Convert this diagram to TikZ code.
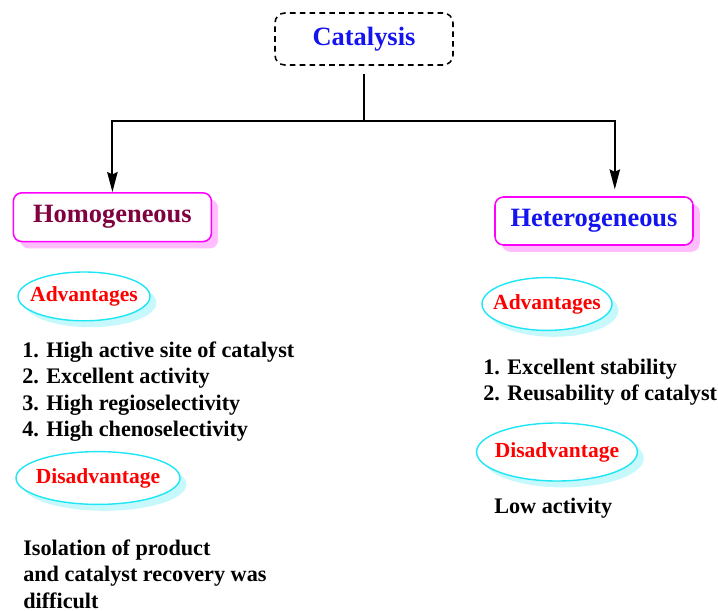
\documentclass[tikz,border=0pt]{standalone}
\usepackage{fontspec}
\setmainfont{Liberation Serif}
\usetikzlibrary{arrows.meta,shapes.geometric,shadows}
\definecolor{catblue}{HTML}{1414F0}
\definecolor{homomaroon}{HTML}{800040}
\definecolor{boxmagenta}{HTML}{FF00FF}
\definecolor{ovalcyan}{HTML}{1EE6F5}

\begin{document}
\begin{tikzpicture}[
  >={Stealth[length=5mm,width=2.6mm,inset=0.6mm]},
  font=\bfseries,
  rootbox/.style={draw=black, dash pattern=on 4pt off 3pt, line width=1.1pt, rounded corners=7pt, minimum width=4.45cm, minimum height=1.3cm, font=\fontsize{18.8}{22}\selectfont\bfseries, text=catblue},
  typebox/.style={draw=boxmagenta, fill=white, line width=1.1pt, rounded corners=6pt, minimum width=4.95cm, minimum height=1.22cm, font=\fontsize{18.8}{22}\selectfont\bfseries, general shadow={fill=boxmagenta!25, shadow xshift=0.17cm, shadow yshift=-0.17cm}},
  oval/.style={ellipse, draw=ovalcyan, fill=white, line width=1pt, inner xsep=-0.4cm, inner ysep=-0.2cm, font=\fontsize{15.3}{18}\selectfont\bfseries, text=red, general shadow={fill=ovalcyan!25, shadow xshift=0.16cm, shadow yshift=-0.16cm}},
  item/.style={anchor=west, align=left, inner sep=0pt, font=\fontsize{15.8}{18.85}\selectfont\bfseries},
  link/.style={line width=1.4pt}
]
\useasboundingbox (0,0) rectangle (17.95,-15.275);

\node[rootbox] (catalysis) at (9.1,-0.975) {Catalysis};
\node[typebox, text=homomaroon] (homogeneous) at (2.81,-5.43) {Homogeneous};
\node[typebox, text=catblue, minimum height=1.2cm] (heterogeneous) at (14.85,-5.525) {Heterogeneous};

\coordinate (fork) at (9.1,-3.03);
\draw[link, shorten <=0.2cm] (catalysis.south) -- (fork);
\draw[link, ->] (fork) -| (homogeneous.north);
\draw[link, ->, shorten >=0.17cm] (fork) -| ([xshift=0.52cm]heterogeneous.north);

% homogeneous side
\node[oval, minimum width=3.3cm, minimum height=1.22cm] (advhomo) at (2.1,-7.41) {Advantages};
\node[item] (prohomo) at (0.55,-9.79) {1. High active site of catalyst\\2. Excellent activity\\3. High regioselectivity\\4. High chenoselectivity};
\node[oval, minimum width=4.1cm, minimum height=1.32cm] (dishomo) at (2.45,-11.95) {Disadvantage};
\node[item] (conhomo) at (0.575,-14.35) {Isolation of product\\and catalyst recovery was\\difficult};

% heterogeneous side
\node[oval, minimum width=3.25cm, minimum height=1.32cm] (advhetero) at (13.675,-7.6) {Advantages};
\node[item] (prohetero) at (12.075,-9.55) {1. Excellent stability\\2. Reusability of catalyst};
\node[oval, minimum width=4.02cm, minimum height=1.45cm] (dishetero) at (13.925,-11.3) {Disadvantage};
\node[item] (conhetero) at (12.35,-12.7) {Low activity};
\end{tikzpicture}
\end{document}
